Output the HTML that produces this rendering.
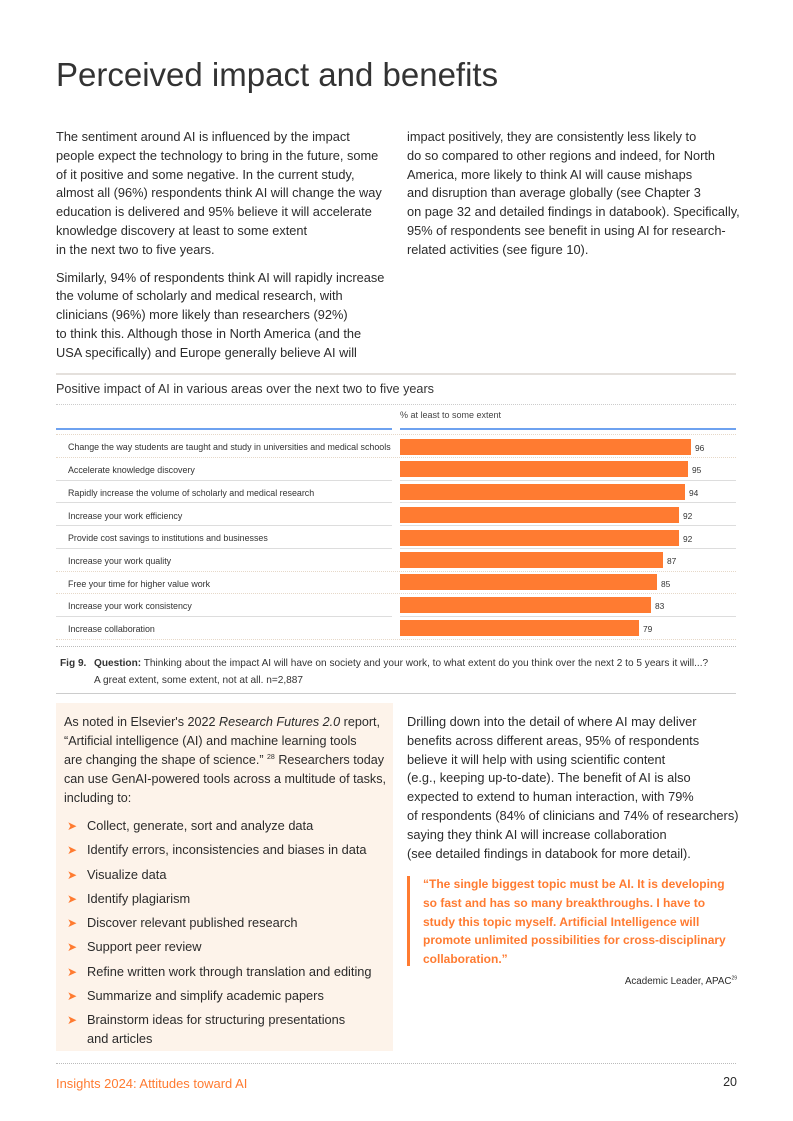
<!DOCTYPE html>
<html><head><meta charset="utf-8"><style>
*{margin:0;padding:0;box-sizing:border-box}
body{width:793px;height:1121px;background:#fff;font-family:"Liberation Sans",sans-serif;color:#2b2b2b;position:relative;overflow:hidden}
.a{position:absolute}
.p{font-size:12.8px;line-height:18.8px;white-space:nowrap}
sup{line-height:0}
.lab{position:absolute;left:68px;font-size:8.9px;color:#333}
.bar{position:absolute;left:400px;height:16px;background:#ff7b31}
.val{position:absolute;font-size:8.4px;color:#333}
.sep{position:absolute;left:56px;width:680px;border-top:1px dotted #e6d8c8}
.sepl{position:absolute;left:56px;width:336px;border-top:1px solid #ddd}
.sepr{position:absolute;left:400px;width:336px;border-top:1px solid #ddd}
li{list-style:none;position:relative;padding-left:23px;height:24.3px;line-height:18.8px}
li.two{height:auto}
li:before{content:"➤";position:absolute;left:3px;color:#ff7b31;font-size:12px}
</style></head><body>
<div class="a" style="left:56px;top:56px;font-size:33px;font-weight:300;color:#333">Perceived impact and benefits</div>
<div class="a p" style="left:56px;top:128px">The sentiment around AI is influenced by the impact<br>people expect the technology to bring in the future, some<br>of it positive and some negative. In the current study,<br>almost all (96%) respondents think AI will change the way<br>education is delivered and 95% believe it will accelerate<br>knowledge discovery at least to some extent<br>in the next two to five years.<div style="height:9px"></div>Similarly, 94% of respondents think AI will rapidly increase<br>the volume of scholarly and medical research, with<br>clinicians (96%) more likely than researchers (92%)<br>to think this. Although those in North America (and the<br>USA specifically) and Europe generally believe AI will</div>
<div class="a p" style="left:407px;top:128px">impact positively, they are consistently less likely to<br>do so compared to other regions and indeed, for North<br>America, more likely to think AI will cause mishaps<br>and disruption than average globally (see Chapter 3<br>on page 32 and detailed findings in databook). Specifically,<br>95% of respondents see benefit in using AI for research-<br>related activities (see figure 10).</div>
<div class="a" style="left:56px;top:373px;width:680px;border-top:2px solid #e4e0dc"></div>
<div class="a" style="left:56px;top:382px;font-size:12.65px;color:#333">Positive impact of AI in various areas over the next two to five years</div>
<div class="sep" style="top:404px;border-color:#ccc"></div>
<div class="a" style="left:400px;top:410px;font-size:9px;color:#444">% at least to some extent</div>
<div class="a" style="left:56px;top:428px;width:336px;border-top:2px solid #6ea2f0"></div>
<div class="a" style="left:400px;top:428px;width:336px;border-top:2px solid #6ea2f0"></div>
<div class="sep" style="top:434px"></div>
<div class="lab" style="top:442px">Change the way students are taught and study in universities and medical schools</div><div class="bar" style="top:439px;width:291px"></div><div class="val" style="left:695px;top:443px">96</div>
<div class="sep" style="top:457px"></div>
<div class="lab" style="top:465px">Accelerate knowledge discovery</div><div class="bar" style="top:461px;width:288px"></div><div class="val" style="left:692px;top:465px">95</div>
<div class="sepl" style="top:480px"></div><div class="sepr" style="top:480px"></div>
<div class="lab" style="top:488px">Rapidly increase the volume of scholarly and medical research</div><div class="bar" style="top:484px;width:285px"></div><div class="val" style="left:689px;top:488px">94</div>
<div class="sepl" style="top:502px"></div><div class="sepr" style="top:502px"></div>
<div class="lab" style="top:511px">Increase your work efficiency</div><div class="bar" style="top:507px;width:279px"></div><div class="val" style="left:683px;top:511px">92</div>
<div class="sepl" style="top:525px"></div><div class="sepr" style="top:525px"></div>
<div class="lab" style="top:533px">Provide cost savings to institutions and businesses</div><div class="bar" style="top:530px;width:279px"></div><div class="val" style="left:683px;top:534px">92</div>
<div class="sepl" style="top:548px"></div><div class="sepr" style="top:548px"></div>
<div class="lab" style="top:556px">Increase your work quality</div><div class="bar" style="top:552px;width:263px"></div><div class="val" style="left:667px;top:556px">87</div>
<div class="sep" style="top:571px"></div>
<div class="lab" style="top:579px">Free your time for higher value work</div><div class="bar" style="top:574px;width:257px"></div><div class="val" style="left:661px;top:579px">85</div>
<div class="sep" style="top:593px"></div>
<div class="lab" style="top:601px">Increase your work consistency</div><div class="bar" style="top:597px;width:251px"></div><div class="val" style="left:655px;top:601px">83</div>
<div class="sepl" style="top:616px"></div><div class="sepr" style="top:616px"></div>
<div class="lab" style="top:624px">Increase collaboration</div><div class="bar" style="top:620px;width:239px"></div><div class="val" style="left:643px;top:624px">79</div>
<div class="sep" style="top:639px"></div>
<div class="sep" style="top:646px;border-color:#bbb"></div>
<div class="a" style="left:60px;top:655px;font-size:10.1px;line-height:17px;color:#333;white-space:nowrap"><b style="display:inline-block;width:34px">Fig 9.</b><b>Question:</b> Thinking about the impact AI will have on society and your work, to what extent do you think over the next 2 to 5 years it will...?<br><span style="padding-left:34px">A great extent, some extent, not at all. n=2,887</span></div>
<div class="a" style="left:56px;top:693px;width:680px;border-top:1px solid #ccc"></div>
<div class="a" style="left:56px;top:703px;width:337px;height:348px;background:#fdf3ea"></div>
<div class="a p" style="left:64px;top:713px;line-height:19px;font-size:12.6px">As noted in Elsevier's 2022 <i>Research Futures 2.0</i> report,<br>“Artificial intelligence (AI) and machine learning tools<br>are changing the shape of science.” <sup style="font-size:7px">28</sup> Researchers today<br>can use GenAI-powered tools across a multitude of tasks,<br>including to:</div>
<ul class="a p" style="left:64px;top:817px">
<li>Collect, generate, sort and analyze data</li>
<li>Identify errors, inconsistencies and biases in data</li>
<li>Visualize data</li>
<li>Identify plagiarism</li>
<li>Discover relevant published research</li>
<li>Support peer review</li>
<li>Refine written work through translation and editing</li>
<li>Summarize and simplify academic papers</li>
<li class="two">Brainstorm ideas for structuring presentations<br>and articles</li>
</ul>
<div class="a p" style="left:407px;top:713px">Drilling down into the detail of where AI may deliver<br>benefits across different areas, 95% of respondents<br>believe it will help with using scientific content<br>(e.g., keeping up-to-date). The benefit of AI is also<br>expected to extend to human interaction, with 79%<br>of respondents (84% of clinicians and 74% of researchers)<br>saying they think AI will increase collaboration<br>(see detailed findings in databook for more detail).</div>
<div class="a" style="left:407px;top:876px;width:3px;height:90px;background:#ff7b31"></div>
<div class="a p" style="left:423px;top:875px;color:#ff7b31;font-weight:bold;font-size:12px">“The single biggest topic must be AI. It is developing<br>so fast and has so many breakthroughs. I have to<br>study this topic myself. Artificial Intelligence will<br>promote unlimited possibilities for cross-disciplinary<br>collaboration.”</div>
<div class="a" style="left:560px;top:976px;width:177px;text-align:right;font-size:9.8px">Academic Leader, APAC<sup style="font-size:5px">29</sup></div>
<div class="a" style="left:56px;top:1063px;width:680px;border-top:1px dotted #bbb"></div>
<div class="a" style="left:56px;top:1076px;font-size:12.95px;color:#ff7b31">Insights 2024: Attitudes toward AI</div>
<div class="a" style="left:700px;top:1075px;width:37px;text-align:right;font-size:12.5px">20</div>
</body></html>
